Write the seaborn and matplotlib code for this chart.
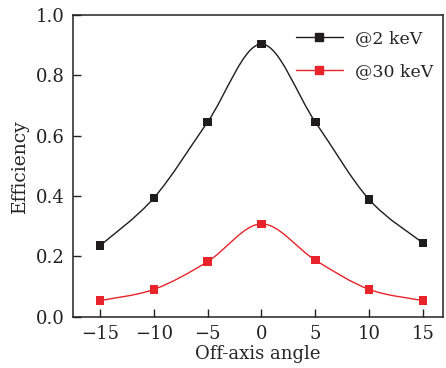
import numpy as np
import pandas as pd
import seaborn as sns
import matplotlib
matplotlib.use("Agg")
import matplotlib.pyplot as plt
from matplotlib.path import Path
from matplotlib.patches import PathPatch
from matplotlib.lines import Line2D

# data
angles = [-15, -10, -5, 0, 5, 10, 15]
eff_2kev = [0.236, 0.394, 0.646, 0.904, 0.646, 0.389, 0.245]
eff_30kev = [0.054, 0.091, 0.183, 0.308, 0.188, 0.091, 0.054]
series_names = ["@2 keV", "@30 keV"]
colors = ["#1e1c1c", "#e8232a"]


def smooth_path(xs, ys):
    # Catmull-Rom through the points, drawn as cubic bezier segments
    pts = np.column_stack([xs, ys]).astype(float)
    ext = np.vstack([pts[0], pts, pts[-1]])
    verts = [pts[0]]
    codes = [Path.MOVETO]
    for i in range(1, len(ext) - 2):
        p0, p1, p2, p3 = ext[i - 1], ext[i], ext[i + 1], ext[i + 2]
        verts += [p1 + (p2 - p0) / 6, p2 - (p3 - p1) / 6, p2]
        codes += [Path.CURVE4] * 3
    return Path(verts, codes)


sns.set_style("ticks")
plt.rcParams["font.family"] = ["DejaVu Serif"]
plt.rcParams["mathtext.fontset"] = "dejavuserif"

df = pd.DataFrame({
    "angle": angles * 2,
    "eff": eff_2kev + eff_30kev,
    "series": [series_names[0]] * len(angles) + [series_names[1]] * len(angles),
})

fig = plt.figure(figsize=(4.46, 3.68), dpi=100)
ax = fig.add_axes([0.164, 0.139, 0.83, 0.82])

for name, col, ys in zip(series_names, colors, [eff_2kev, eff_30kev]):
    ax.add_patch(PathPatch(smooth_path(angles, ys), facecolor="none",
                           edgecolor=col, lw=1.0, zorder=2))

sns.scatterplot(data=df, x="angle", y="eff", hue="series", palette=colors,
                marker="s", s=38, edgecolor="none", legend=False, zorder=3, ax=ax)

ax.set_xlim(-17.5, 16.9)
ax.set_ylim(0, 1.0)
ax.set_xticks([-15, -10, -5, 0, 5, 10, 15])
ax.set_xticklabels(["\u221215", "\u221210", "\u22125", "0", "5", "10", "15"])
ax.set_yticks([0, 0.2, 0.4, 0.6, 0.8, 1.0])
ax.set_yticklabels(["0.0", "0.2", "0.4", "0.6", "0.8", "1.0"])
ax.tick_params(direction="in", length=6, width=1.0, labelsize=13, pad=6,
               top=False, right=False, colors="#222222")
for sp in ax.spines.values():
    sp.set_linewidth(1.1)
    sp.set_color("#222222")
ax.set_xlabel("Off-axis angle", fontsize=13, labelpad=1)
ax.set_ylabel("Efficiency", fontsize=13.5, labelpad=5)

handles = [Line2D([], [], color=c, marker="s", markersize=5.5, lw=1.0) for c in colors]
ax.legend(handles, series_names, loc="upper right", frameon=False, fontsize=12.5,
          handlelength=2.7, handletextpad=0.7, labelspacing=0.95,
          borderaxespad=0.2, bbox_to_anchor=(1.0, 0.985))

fig.savefig("out.png", dpi=100)
